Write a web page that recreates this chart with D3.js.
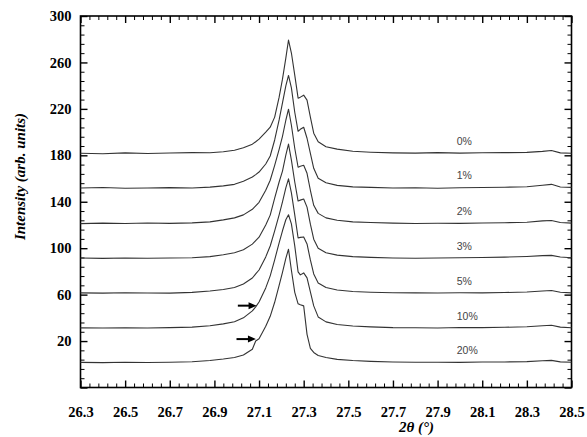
<!DOCTYPE html>
<html><head><meta charset="utf-8">
<script src="https://cdn.jsdelivr.net/npm/d3@7"></script>
<style>body{margin:0;background:#fff}svg{display:block}</style>
</head><body><svg id="c" width="587" height="437"></svg>
<script>
const twoTheta = [26.30,26.40,26.50,26.60,26.70,26.80,26.88,26.94,26.99,27.03,27.07,27.085,27.10,27.13,27.15,27.17,27.19,27.205,27.22,27.232,27.245,27.26,27.275,27.285,27.30,27.315,27.33,27.345,27.365,27.40,27.45,27.52,27.60,27.70,27.80,27.90,28.00,28.10,28.20,28.30,28.37,28.41,28.45,28.50];
const s0  = [181.8,181.4,182.1,181.6,182.0,182.3,182.2,183.1,184.4,186.5,189.6,191.7,193.9,199.9,204.2,212.9,230.1,245.6,263.7,279.3,268.1,249.1,229.2,230.1,231.8,227.5,212.9,199.1,191.7,187.4,185.3,183.5,182.7,182.1,181.9,182.3,181.9,182.2,182.3,182.5,183.4,184.2,182.1,181.8];
const s1  = [151.9,152.3,151.6,151.9,152.2,151.8,152.6,153.7,155.0,157.6,161.3,163.4,165.6,172.5,179.4,193.2,210.5,225.1,239.8,248.8,238.1,217.1,200.7,202.4,204.2,194.7,181.7,168.8,160.2,156.3,154.1,152.8,152.4,151.8,152.0,151.6,152.1,152.3,152.5,152.9,154.2,155.0,152.7,152.4];
const s2  = [121.2,121.6,121.3,121.7,121.4,121.8,122.7,124.4,126.1,128.7,133.5,136.5,139.5,149.9,158.5,171.4,185.2,196.4,210.2,219.7,205.9,186.1,169.7,170.6,171.4,164.5,149.9,136.9,130.0,126.1,124.0,122.7,122.1,121.6,121.3,121.5,121.4,121.7,121.9,122.4,123.5,123.9,122.1,121.6];
const s3  = [91.5,91.2,91.6,91.3,91.5,91.7,92.7,94.4,96.1,98.7,103.5,106.5,109.5,119.9,128.5,143.2,157.0,166.4,180.2,189.7,175.9,157.0,140.6,141.4,142.3,135.4,120.7,107.8,100.0,96.1,94.0,92.7,92.1,91.6,91.3,91.6,91.8,92.0,92.3,92.9,93.6,93.8,92.4,91.8];
const s5  = [61.5,61.3,61.6,61.4,61.3,61.9,63.1,64.4,66.1,69.2,74.3,77.8,81.2,92.5,101.9,114.9,128.7,139.9,152.0,159.7,147.7,128.7,108.8,109.3,109.7,103.7,89.9,77.8,70.0,66.1,64.0,62.7,62.1,61.6,61.5,61.4,61.6,61.5,61.8,62.2,63.1,63.6,62.0,61.5];
const s10 = [31.4,31.2,31.5,31.3,31.6,32.0,33.2,34.8,36.7,40.0,46.0,49.4,53.7,65.8,76.2,90.0,104.6,115.0,124.5,128.8,121.0,102.0,79.6,77.0,78.7,74.4,62.4,50.3,40.8,36.5,34.3,33.0,32.2,31.6,31.5,31.3,31.7,31.6,31.9,32.3,33.2,33.6,32.0,31.5];
const s20 = [1.6,1.4,1.7,1.5,1.8,2.2,3.3,4.6,5.9,8.0,13.0,20.0,22.0,32.7,41.3,53.4,68.0,79.2,91.3,99.1,81.0,62.0,52.1,51.2,50.3,25.8,13.7,10.2,7.6,5.9,4.2,3.2,2.5,1.9,1.7,1.8,1.6,1.9,2.0,2.3,3.0,3.4,2.1,1.8];
const seriesLabels = ["0%","1%","2%","3%","5%","10%","20%"];
const xTickValues = [26.3,26.5,26.7,26.9,27.1,27.3,27.5,27.7,27.9,28.1,28.3,28.5];
const yTickValues = [-20,20,60,100,140,180,220,260,300];
const arrowTail = [27.005, 26.999];
const arrowTip  = [27.089, 27.086];
const arrowLevel = [50.5, 21.7];

const series = [s0,s1,s2,s3,s5,s10,s20];
const svg = d3.select("#c");
const L=80.5, R=571.5, T=16, B=387.5;
const x = d3.scaleLinear().domain([26.3,28.5]).range([L,R]);
const y = d3.scaleLinear().domain([-20,300]).range([B,T]);
const SERIF = '"Liberation Serif"';

const xMinor = d3.range(0,56).map(i=>+(26.3+i*0.04).toFixed(2)).filter(v=>!xTickValues.some(t=>Math.abs(t-v)<1e-6));
const yMinor = d3.range(0,41).map(i=>-20+i*8).filter(v=>!yTickValues.includes(v));

function styleAxis(g, major){
  g.select(".domain").remove();
  g.selectAll(".tick line").attr("stroke","#000").attr("stroke-width", major?1.4:1);
}
svg.append("g").attr("transform",`translate(0,${B})`).call(d3.axisBottom(x).tickValues(xMinor).tickSize(-4).tickFormat("")).call(g=>styleAxis(g,false));
svg.append("g").attr("transform",`translate(0,${T})`).call(d3.axisTop(x).tickValues(xMinor).tickSize(-4).tickFormat("")).call(g=>styleAxis(g,false));
svg.append("g").attr("transform",`translate(${L},0)`).call(d3.axisLeft(y).tickValues(yMinor).tickSize(-4).tickFormat("")).call(g=>styleAxis(g,false));
svg.append("g").attr("transform",`translate(${R},0)`).call(d3.axisRight(y).tickValues(yMinor).tickSize(-4).tickFormat("")).call(g=>styleAxis(g,false));
const gx = svg.append("g").attr("transform",`translate(0,${B})`).call(d3.axisBottom(x).tickValues(xTickValues).tickSize(-7).tickPadding(19.5).tickFormat(d3.format(".1f"))).call(g=>styleAxis(g,true));
svg.append("g").attr("transform",`translate(0,${T})`).call(d3.axisTop(x).tickValues(xTickValues).tickSize(-7).tickFormat("")).call(g=>styleAxis(g,true));
const gy = svg.append("g").attr("transform",`translate(${L},0)`).call(d3.axisLeft(y).tickValues(yTickValues).tickSize(-7).tickPadding(9).tickFormat(d=>d<0?"":d)).call(g=>styleAxis(g,true));
svg.append("g").attr("transform",`translate(${R},0)`).call(d3.axisRight(y).tickValues(yTickValues).tickSize(-7).tickFormat("")).call(g=>styleAxis(g,true));
[gx,gy].forEach(g=>{
  g.selectAll("text").style("font-family",SERIF).style("font-weight","bold").style("font-size","14.5px").attr("fill","#000");});

svg.append("rect").attr("x",L).attr("y",T).attr("width",R-L).attr("height",B-T).attr("fill","none").attr("stroke","#000").attr("stroke-width",1.6);

const line = d3.line().x((d,i)=>x(twoTheta[i])).y(d=>y(d));
svg.append("g").selectAll("path").data(series).join("path")
  .attr("d",line).attr("fill","none").attr("stroke","#333").attr("stroke-width",1.1).attr("stroke-linejoin","round");

svg.append("g").selectAll("text").data(series).join("text")
  .attr("x",x(27.986)).attr("y",d=>y(d[d.length-1]+10)).attr("dy","0.35em")
  .style("font-family",'"Liberation Sans"').style("font-size","10.5px").attr("fill","#444")
  .text((d,i)=>seriesLabels[i]);

const ag = svg.append("g");
arrowTail.forEach((t,i)=>{
  const x0=x(t), x1=x(arrowTip[i]), yy=y(arrowLevel[i]);
  ag.append("line").attr("x1",x0).attr("x2",x1-6).attr("y1",yy).attr("y2",yy).attr("stroke","#000").attr("stroke-width",2);
  ag.append("path").attr("d",`M${x1},${yy}L${x1-8},${yy-3.5}L${x1-8},${yy+3.5}Z`).attr("fill","#000");
});

svg.append("text").attr("x",416.5).attr("y",432).attr("text-anchor","middle")
  .style("font-family",SERIF).style("font-weight","bold").style("font-style","italic").style("font-size","15px").text("2θ (°)");
svg.append("text").attr("transform","translate(25,176.5) rotate(-90)").attr("text-anchor","middle")
  .style("font-family",SERIF).style("font-weight","bold").style("font-style","italic").style("font-size","15px").text("Intensity (arb. units)");
</script>
</body></html>
